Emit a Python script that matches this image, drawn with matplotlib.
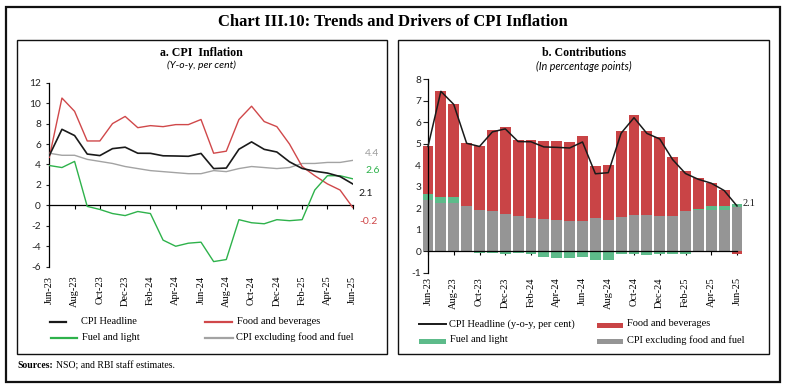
import matplotlib
matplotlib.use('Agg')
import matplotlib.pyplot as plt
from matplotlib.lines import Line2D
from matplotlib.patches import Rectangle
import numpy as np

plt.rcParams['axes.unicode_minus'] = False

months = ['Jun-23', 'Jul-23', 'Aug-23', 'Sep-23', 'Oct-23', 'Nov-23', 'Dec-23',
          'Jan-24', 'Feb-24', 'Mar-24', 'Apr-24', 'May-24', 'Jun-24', 'Jul-24',
          'Aug-24', 'Sep-24', 'Oct-24', 'Nov-24', 'Dec-24', 'Jan-25', 'Feb-25',
          'Mar-25', 'Apr-25', 'May-25', 'Jun-25']

# panel a: y-o-y inflation, per cent
headline = [4.87, 7.44, 6.83, 5.02, 4.87, 5.55, 5.69, 5.10, 5.09, 4.85, 4.83, 4.80,
            5.08, 3.60, 3.65, 5.49, 6.21, 5.48, 5.22, 4.26, 3.61, 3.34, 3.16, 2.82, 2.10]
food = [4.7, 10.5, 9.2, 6.3, 6.3, 8.0, 8.7, 7.6, 7.8, 7.7, 7.9, 7.9,
        8.4, 5.1, 5.3, 8.4, 9.7, 8.2, 7.7, 6.0, 3.8, 2.9, 2.1, 1.5, -0.2]
fuel = [3.9, 3.7, 4.3, -0.1, -0.4, -0.8, -1.0, -0.6, -0.8, -3.4, -4.0, -3.7,
        -3.6, -5.5, -5.3, -1.4, -1.7, -1.8, -1.4, -1.5, -1.4, 1.5, 2.9, 2.9, 2.6]
core = [5.1, 4.9, 4.9, 4.5, 4.3, 4.1, 3.8, 3.6, 3.4, 3.3, 3.2, 3.1,
        3.1, 3.4, 3.3, 3.6, 3.8, 3.7, 3.6, 3.7, 4.1, 4.1, 4.2, 4.2, 4.4]

# panel b: contributions, percentage points
contrib_core = [2.40, 2.23, 2.23, 2.08, 1.92, 1.87, 1.73, 1.64, 1.56, 1.50, 1.45, 1.41,
                1.41, 1.56, 1.45, 1.60, 1.70, 1.69, 1.64, 1.64, 1.87, 1.89, 1.92, 1.92, 2.05]
contrib_fuel = [0.27, 0.30, 0.30, -0.02, -0.08, -0.08, -0.12, -0.08, -0.12, -0.27, -0.31, -0.31,
                -0.27, -0.42, -0.42, -0.14, -0.14, -0.17, -0.14, -0.14, -0.14, 0.08, 0.20, 0.20, 0.15]
contrib_food = [2.23, 4.93, 4.32, 2.96, 2.98, 3.77, 4.05, 3.54, 3.62, 3.63, 3.68, 3.68,
                3.95, 2.41, 2.57, 4.00, 4.64, 3.91, 3.68, 2.75, 1.87, 1.43, 1.07, 0.73, -0.13]

C_BLACK = '#1a1a1a'
C_RED = '#d0484a'
C_GREEN = '#2eb24b'
C_GREY = '#a3a3a3'
B_RED = '#c94446'
B_GREEN = '#5dbb8a'
B_GREY = '#959595'

SERIF = 'Liberation Serif'
SANS = 'Lato'

W, H = 785, 387
fig = plt.figure(figsize=(W / 100, H / 100), dpi=100)


def fx(px):
    return px / W


def fy(py):
    return 1 - py / H


def box(x0, y0, x1, y1, lw=1.0):
    fig.add_artist(Rectangle((fx(x0), fy(y1)), fx(x1) - fx(x0), fy(y0) - fy(y1),
                             transform=fig.transFigure, fill=False,
                             edgecolor='#111111', linewidth=lw))


# frames
box(6, 7, 780, 382, lw=1.6)
box(17, 40, 387, 354)
box(398, 40, 769, 354)

fig.text(fx(393), fy(22), 'Chart III.10: Trends and Drivers of CPI Inflation',
         ha='center', va='center', fontsize=12, fontweight='bold', family=SERIF)
fig.text(fx(201), fy(53), 'a. CPI  Inflation', ha='center', va='center',
         fontsize=8.6, fontweight='bold', family=SERIF)
fig.text(fx(201), fy(65), '(Y-o-y, per cent)', ha='center', va='center',
         fontsize=7.5, style='italic', family=SANS)
fig.text(fx(584), fy(53), 'b. Contributions', ha='center', va='center',
         fontsize=8.6, fontweight='bold', family=SERIF)
fig.text(fx(584), fy(66), '(In percentage points)', ha='center', va='center',
         fontsize=7.7, style='italic', family=SANS)
fig.text(fx(17), fy(366), 'Sources:', ha='left', va='center',
         fontsize=7, fontweight='bold', family=SERIF)
fig.text(fx(56), fy(366), 'NSO; and RBI staff estimates.', ha='left', va='center',
         fontsize=7, family=SERIF)

x = np.arange(len(months))
tick_pos = x[::2]
tick_lab = months[::2]


def style_axis(ax, ymin, ymax, ystep, tick_len, label_pad, xlab_pad):
    ax.set_xlim(0, len(months) - 1)
    ax.set_ylim(ymin, ymax)
    ax.set_yticks(np.arange(ymin, ymax + 0.01, ystep))
    for s in ['top', 'right']:
        ax.spines[s].set_visible(False)
    ax.spines['bottom'].set_position(('data', 0))
    ax.spines['left'].set_linewidth(0.9)
    ax.spines['bottom'].set_linewidth(0.9)
    ax.set_xticks(tick_pos)
    ax.tick_params(axis='x', direction='out', length=3, width=0.8,
                   labelbottom=False)
    ax.tick_params(axis='y', direction='out', length=tick_len, width=0.8,
                   pad=label_pad, labelsize=7.3, colors='#222222')
    for t in ax.get_yticklabels():
        t.set_family(SANS)
    sec = ax.secondary_xaxis('bottom')
    sec.set_xticks(tick_pos)
    sec.set_xticklabels(tick_lab, rotation=90, family=SERIF, fontsize=7.5)
    sec.tick_params(length=0, pad=xlab_pad)
    sec.spines['bottom'].set_visible(False)


# panel a
ax1 = fig.add_axes([fx(49.3), fy(266.7), fx(352.7) - fx(49.3), fy(82.7) - fy(266.7)])
ax1.plot(x, headline, color=C_BLACK, lw=1.2, zorder=5)
ax1.plot(x, food, color=C_RED, lw=1.0, zorder=4)
ax1.plot(x, fuel, color=C_GREEN, lw=1.0, zorder=4)
ax1.plot(x, core, color=C_GREY, lw=1.0, zorder=3)
style_axis(ax1, -6, 12, 2, 2.5, 3.5, 6.5)
last = len(months) - 1
ax1.annotate(f'{core[-1]:.1f}', (last, core[-1]), xytext=(9, 5), textcoords='offset points',
             color='#9a9a9a', fontsize=7.5, family=SANS, va='center', annotation_clip=False)
ax1.annotate(f'{fuel[-1]:.1f}', (last, fuel[-1]), xytext=(9, 6), textcoords='offset points',
             color=C_GREEN, fontsize=7.5, family=SANS, va='center', annotation_clip=False)
ax1.annotate(f'{headline[-1]:.1f}', (last, headline[-1]), xytext=(4, -7), textcoords='offset points',
             color=C_BLACK, fontsize=7.5, family=SANS, va='center', annotation_clip=False)
ax1.annotate(f'{food[-1]:.1f}', (last, food[-1]), xytext=(5, -10), textcoords='offset points',
             color=C_RED, fontsize=7.5, family=SANS, va='center', annotation_clip=False)

# panel b
ax2 = fig.add_axes([fx(428), fy(272.5), fx(737) - fx(428), fy(79.3) - fy(272.5)])
cc = np.array(contrib_core)
cf = np.array(contrib_fuel)
cd = np.array(contrib_food)
fuel_pos = np.clip(cf, 0, None)
fuel_neg = np.clip(cf, None, 0)
food_base = np.where(cd >= 0, cc + fuel_pos, fuel_neg)
bw = 0.85
ax2.bar(x, cc, width=bw, color=B_GREY, clip_on=False, zorder=2)
ax2.bar(x, fuel_pos, bottom=cc, width=bw, color=B_GREEN, clip_on=False, zorder=2)
ax2.bar(x, fuel_neg, width=bw, color=B_GREEN, clip_on=False, zorder=2)
ax2.bar(x, cd, bottom=food_base, width=bw, color=B_RED, clip_on=False, zorder=2)
ax2.plot(x, headline, color=C_BLACK, lw=1.1, zorder=5, clip_on=False)
style_axis(ax2, -1, 8, 1, 3.5, 1.5, 3.5)
ax2.spines['bottom'].set_zorder(6)
ax2.annotate(f'{headline[-1]:.1f}', (last, headline[-1]), xytext=(4, 2), textcoords='offset points',
             color=C_BLACK, fontsize=7.5, family=SERIF, va='center', annotation_clip=False)

# legends
def leg_line(x0, x1, y, color, lw=1.6):
    fig.add_artist(Line2D([fx(x0), fx(x1)], [fy(y), fy(y)], transform=fig.transFigure,
                          color=color, linewidth=lw))


def leg_patch(x0, x1, y, color):
    fig.add_artist(Rectangle((fx(x0), fy(y + 2.5)), fx(x1) - fx(x0), fy(y - 2.5) - fy(y + 2.5),
                             transform=fig.transFigure, color=color, linewidth=0))


def leg_text(px, py, s):
    fig.text(fx(px), fy(py), s, ha='left', va='center', fontsize=7.5, family=SERIF)


leg_line(50, 66, 322, C_BLACK)
leg_text(81, 321, 'CPI Headline')
leg_line(205, 232, 322, C_RED)
leg_text(237, 321, 'Food and beverages')
leg_line(51, 77, 338, C_GREEN)
leg_text(82, 337, 'Fuel and light')
leg_line(205, 233, 338, C_GREY)
leg_text(236, 337, 'CPI excluding food and fuel')

leg_line(419, 446, 324, C_BLACK, lw=1.4)
leg_text(449, 324, 'CPI Headline (y-o-y, per cent)')
leg_patch(597, 623, 325, B_RED)
leg_text(627, 324, 'Food and beverages')
leg_patch(419, 446, 341, B_GREEN)
leg_text(450, 340, 'Fuel and light')
leg_patch(597, 623, 341, B_GREY)
leg_text(627, 340, 'CPI excluding food and fuel')

fig.savefig('out.png', dpi=100)
